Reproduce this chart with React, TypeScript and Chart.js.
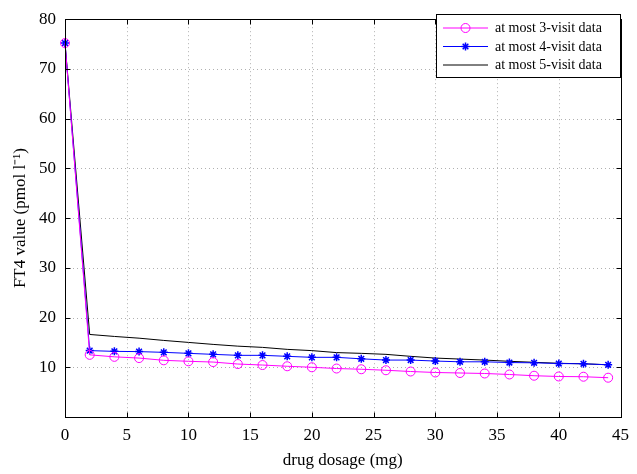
import React, { useEffect, useRef } from 'react';
import { Chart, registerables } from 'chart.js';

Chart.register(...registerables);

const dosage = [0, 2, 4, 6, 8, 10, 12, 14, 16, 18, 20, 22, 24, 26, 28, 30, 32, 34, 36, 38, 40, 42, 44];
const visit3 = [75.2, 12.5, 12.1, 11.85, 11.4, 11.2, 11.05, 10.65, 10.45, 10.2, 10.0, 9.75, 9.6, 9.4, 9.15, 8.95, 8.85, 8.75, 8.55, 8.3, 8.15, 8.1, 7.9];
const visit4 = [75.2, 13.35, 13.2, 13.15, 13.0, 12.8, 12.6, 12.4, 12.4, 12.2, 12.0, 12.0, 11.7, 11.45, 11.45, 11.25, 11.1, 11.1, 10.95, 10.9, 10.75, 10.7, 10.5];
const visit5 = [75.2, 16.6, 16.2, 15.85, 15.4, 15.0, 14.6, 14.25, 14.0, 13.6, 13.35, 12.95, 12.8, 12.6, 12.2, 11.85, 11.65, 11.45, 11.2, 11.0, 10.8, 10.7, 10.5];
const seriesLabels = ['at most 3-visit data', 'at most 4-visit data', 'at most 5-visit data'];
const xTicks = [0, 5, 10, 15, 20, 25, 30, 35, 40, 45];
const yTicks = [0, 10, 20, 30, 40, 50, 60, 70, 80];
const xTitle = 'drug dosage (mg)';
const yTitle = 'FT4 value (pmol l\u207B\u00B9)';

const FONT = '"Liberation Serif", "Times New Roman", serif';

function drawMarker(ctx: CanvasRenderingContext2D, style: string, x: number, y: number, r: number) {
  ctx.beginPath();
  if (style === 'circle') {
    ctx.arc(x, y, r, 0, Math.PI * 2);
  } else if (style === 'star') {
    ctx.moveTo(x - r, y); ctx.lineTo(x + r, y);
    ctx.moveTo(x, y - r); ctx.lineTo(x, y + r);
    const d = r * Math.SQRT1_2;
    ctx.moveTo(x - d, y - d); ctx.lineTo(x + d, y + d);
    ctx.moveTo(x - d, y + d); ctx.lineTo(x + d, y - d);
  }
  ctx.stroke();
}

const framePlugin = {
  id: 'matlabFrame',
  beforeDatasetsDraw(chart: any) {
    const { ctx, chartArea: a, scales } = chart;
    ctx.save();
    ctx.strokeStyle = '#b0b0b0';
    ctx.lineWidth = 1;
    ctx.setLineDash([1, 3]);
    xTicks.forEach((v) => {
      const px = Math.round(scales.x.getPixelForValue(v)) + 0.5;
      if (px <= a.left + 1 || px >= a.right - 1) return;
      ctx.beginPath(); ctx.moveTo(px, a.top); ctx.lineTo(px, a.bottom); ctx.stroke();
    });
    yTicks.forEach((v) => {
      const py = Math.round(scales.y.getPixelForValue(v)) + 0.5;
      if (py <= a.top + 1 || py >= a.bottom - 1) return;
      ctx.beginPath(); ctx.moveTo(a.left, py); ctx.lineTo(a.right, py); ctx.stroke();
    });
    ctx.restore();
  },
  afterDatasetsDraw(chart: any) {
    const { ctx, chartArea: a, scales } = chart;
    ctx.save();
    ctx.strokeStyle = '#000';
    ctx.lineWidth = 1;
    ctx.setLineDash([]);
    const L = Math.round(a.left) + 0.5, R = Math.round(a.right) + 0.5;
    const T = Math.round(a.top) + 0.5, B = Math.round(a.bottom) + 0.5;
    ctx.strokeRect(L, T, R - L, B - T);
    const tl = 5;
    ctx.beginPath();
    xTicks.forEach((v) => {
      const px = Math.round(scales.x.getPixelForValue(v)) + 0.5;
      ctx.moveTo(px, B); ctx.lineTo(px, B - tl);
      ctx.moveTo(px, T); ctx.lineTo(px, T + tl);
    });
    yTicks.forEach((v) => {
      const py = Math.round(scales.y.getPixelForValue(v)) + 0.5;
      ctx.moveTo(L, py); ctx.lineTo(L + tl, py);
      ctx.moveTo(R, py); ctx.lineTo(R - tl, py);
    });
    ctx.stroke();
    ctx.restore();
  },
  afterDraw(chart: any) {
    const { ctx } = chart;
    const bx = 436.5, by = 14.5, bw = 184, bh = 63;
    ctx.save();
    ctx.fillStyle = '#fff';
    ctx.fillRect(bx, by, bw, bh);
    ctx.strokeStyle = '#000';
    ctx.lineWidth = 1;
    ctx.strokeRect(bx, by, bw, bh);
    ctx.font = '14px ' + FONT;
    ctx.textBaseline = 'middle';
    ctx.textAlign = 'left';
    chart.data.datasets.forEach((ds: any, i: number) => {
      const y = 28 + i * 18.5;
      ctx.strokeStyle = ds.borderColor;
      ctx.lineWidth = 1;
      ctx.beginPath(); ctx.moveTo(443, y); ctx.lineTo(488, y); ctx.stroke();
      if (ds.pointRadius > 0) {
        ctx.lineWidth = ds.pointBorderWidth || 1;
        ctx.strokeStyle = ds.pointBorderColor || ds.borderColor;
        drawMarker(ctx, ds.pointStyle, 465.5, y, ds.pointRadius);
      }
      ctx.fillStyle = '#000';
      ctx.fillText(ds.label, 495, y + 0.5);
    });
    ctx.restore();
  },
};

export default function App() {
  const ref = useRef<HTMLCanvasElement | null>(null);
  useEffect(() => {
    if (!ref.current) return;
    const toPts = (arr: number[]) => dosage.map((x, i) => ({ x, y: arr[i] }));
    const tickFont = { family: FONT, size: 17 };
    const chart = new Chart(ref.current, {
      type: 'line',
      data: {
        datasets: [
          {
            label: seriesLabels[0], data: toPts(visit3), borderColor: '#ff00ff', backgroundColor: 'transparent',
            borderWidth: 1, pointStyle: 'circle', pointRadius: 4.5, pointBorderColor: '#ff00ff', pointBackgroundColor: 'transparent',
            pointBorderWidth: 1, clip: false, tension: 0,
          },
          {
            label: seriesLabels[1], data: toPts(visit4), borderColor: '#0000ff', backgroundColor: 'transparent',
            borderWidth: 1, pointStyle: 'star', pointRadius: 4, pointBorderColor: '#0000ff', pointBackgroundColor: '#0000ff',
            pointBorderWidth: 1.5, clip: false, tension: 0,
          },
          {
            label: seriesLabels[2], data: toPts(visit5), borderColor: '#000000', backgroundColor: 'transparent',
            borderWidth: 1, pointRadius: 0, clip: false, tension: 0,
          },
        ] as any,
      },
      options: {
        responsive: false,
        animation: false,
        layout: { padding: { top: 10, right: 12, left: 0, bottom: 0 } },
        plugins: { legend: { display: false }, tooltip: { enabled: false } },
        scales: {
          x: {
            type: 'linear', min: 0, max: 45,
            afterBuildTicks: (s: any) => { s.ticks = xTicks.map((v) => ({ value: v })); },
            ticks: { font: tickFont, color: '#000', padding: 8, maxRotation: 0, autoSkip: false },
            grid: { display: false, drawTicks: false },
            border: { display: false },
            title: { display: true, text: xTitle, font: tickFont, color: '#000', padding: { top: 0, bottom: 3 } },
            afterFit: (s: any) => { s.height = 57; },
          },
          y: {
            type: 'linear', min: 0, max: 80,
            afterBuildTicks: (s: any) => { s.ticks = yTicks.map((v) => ({ value: v })); },
            ticks: { font: tickFont, color: '#000', padding: 9, autoSkip: false, callback: (v: any) => (v === 0 ? '' : String(v)) },
            grid: { display: false, drawTicks: false },
            border: { display: false },
            title: { display: true, text: yTitle, font: tickFont, color: '#000', padding: { top: 10, bottom: 0 } },
            afterFit: (s: any) => { s.width = 65; },
          },
        },
      } as any,
      plugins: [framePlugin],
    });
    return () => chart.destroy();
  }, []);
  return (
    <div style={{ position: 'fixed', left: 0, top: 0, width: 637, height: 474, background: '#fff' }}>
      <canvas ref={ref} width={637} height={474} style={{ display: 'block' }} />
    </div>
  );
}
